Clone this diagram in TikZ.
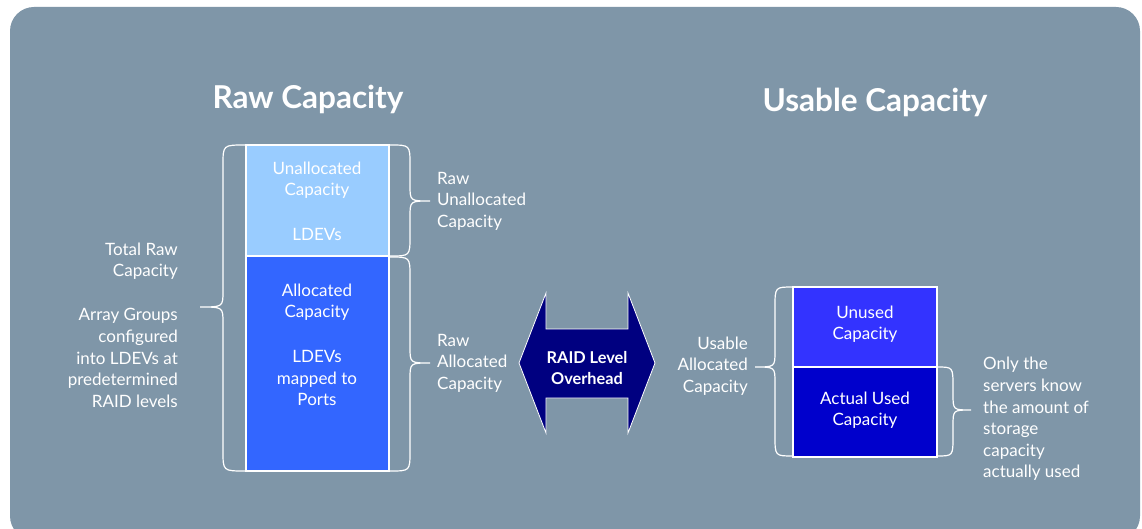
\documentclass[tikz,border=0pt]{standalone}
\usepackage{fontspec}
\setmainfont{Lato}
\definecolor{bg}{RGB}{127,150,168}
\definecolor{lightb}{RGB}{153,204,255}
\definecolor{midb}{RGB}{51,102,255}
\definecolor{unusedb}{RGB}{51,51,255}
\definecolor{usedb}{RGB}{0,0,204}
\definecolor{navyb}{RGB}{0,0,128}
\tikzset{
  txt/.style={text=white, font=\fontsize{17}{21.6}\selectfont, inner sep=0pt},
  ttl/.style={text=white, font=\fontsize{31.5}{36}\selectfont\bfseries, inner sep=0pt},
  brace/.style={draw=white, line width=1.2pt},
  capbox/.style={draw=white, line width=1.2pt, anchor=north west, inner sep=0pt, outer sep=0pt},
}
\newcommand\cbrace[6]{\draw[brace] (#1,#4) .. controls (#2,#4) .. (#2,#4+20) -- (#2,#6-16) .. controls (#2,#6) .. (#3,#6) .. controls (#2,#6) .. (#2,#6+16) -- (#2,#5-20) .. controls (#2,#5) .. (#1,#5);}
\begin{document}
\begin{tikzpicture}[x=1pt,y=-1pt]
\useasboundingbox (0,0) rectangle (1142,529);
\fill[white] (0,0) rectangle (1142,529);
\fill[bg, rounded corners=24pt] (10,7) rectangle (1140,540);

% titles
\node[ttl] (rawt) at (308,99) {Raw Capacity};
\node[ttl] (uset) at (875,102) {Usable Capacity};

% left stack
\node[capbox, fill=lightb, minimum width=143, minimum height=111] (unalloc) at (246,145) {};
\node[capbox, fill=midb, minimum width=143, minimum height=215] (alloc) at (246,256) {};
\node[txt, align=center] (t1) at (317,180) {Unallocated\\Capacity};
\node[txt, align=center] (t2) at (317,234) {LDEVs};
\node[txt, align=center] (t3) at (317,302) {Allocated\\Capacity};
\node[txt, align=center] (t4) at (317,378) {LDEVs\\mapped to\\Ports};

% braces left stack
\cbrace{245}{223}{200}{145}{471}{307}
\cbrace{390}{410}{430}{145}{256}{201}
\cbrace{390}{410}{430}{257}{471}{363}

\node[txt, align=left, anchor=west] (t5) at (437,201) {Raw\\Unallocated\\Capacity};
\node[txt, align=left, anchor=west] (t6) at (437,363) {Raw\\Allocated\\Capacity};
\node[txt, align=right, anchor=east] (t7) at (178,261) {Total Raw\\Capacity};
\node[txt, align=right, anchor=east] (t8) at (178,358) {Array Groups\\configured\\into LDEVs at\\predetermined\\RAID levels};

% arrow
\draw[fill=navyb, draw=white, line width=0.8pt] (519,363) -- (546,293) -- (546,329) -- (628,329) -- (628,293) -- (655,363) -- (628,433) -- (628,398) -- (546,398) -- (546,433) -- cycle;
\node[txt, align=center, font=\fontsize{16.3}{21.6}\selectfont\bfseries] (raid) at (587,368) {RAID Level\\Overhead};

% right stack
\node[capbox, fill=unusedb, minimum width=144, minimum height=80] (unused) at (793,287) {};
\node[capbox, fill=usedb, minimum width=144, minimum height=90] (used) at (793,367) {};
\node[txt, align=center] (t9) at (865,324) {Unused\\Capacity};
\node[txt, align=center] (t10) at (865,410) {Actual Used\\Capacity};

\cbrace{793}{775}{755}{287}{456}{367}
\cbrace{937}{953}{971}{367}{456}{410}

\node[txt, align=right, anchor=east] (t11) at (748,366) {Usable\\Allocated\\Capacity};
\node[txt, align=left, anchor=west] (t12) at (983,419) {Only the\\servers know\\the amount of\\storage\\capacity\\actually used};
\end{tikzpicture}
\end{document}
